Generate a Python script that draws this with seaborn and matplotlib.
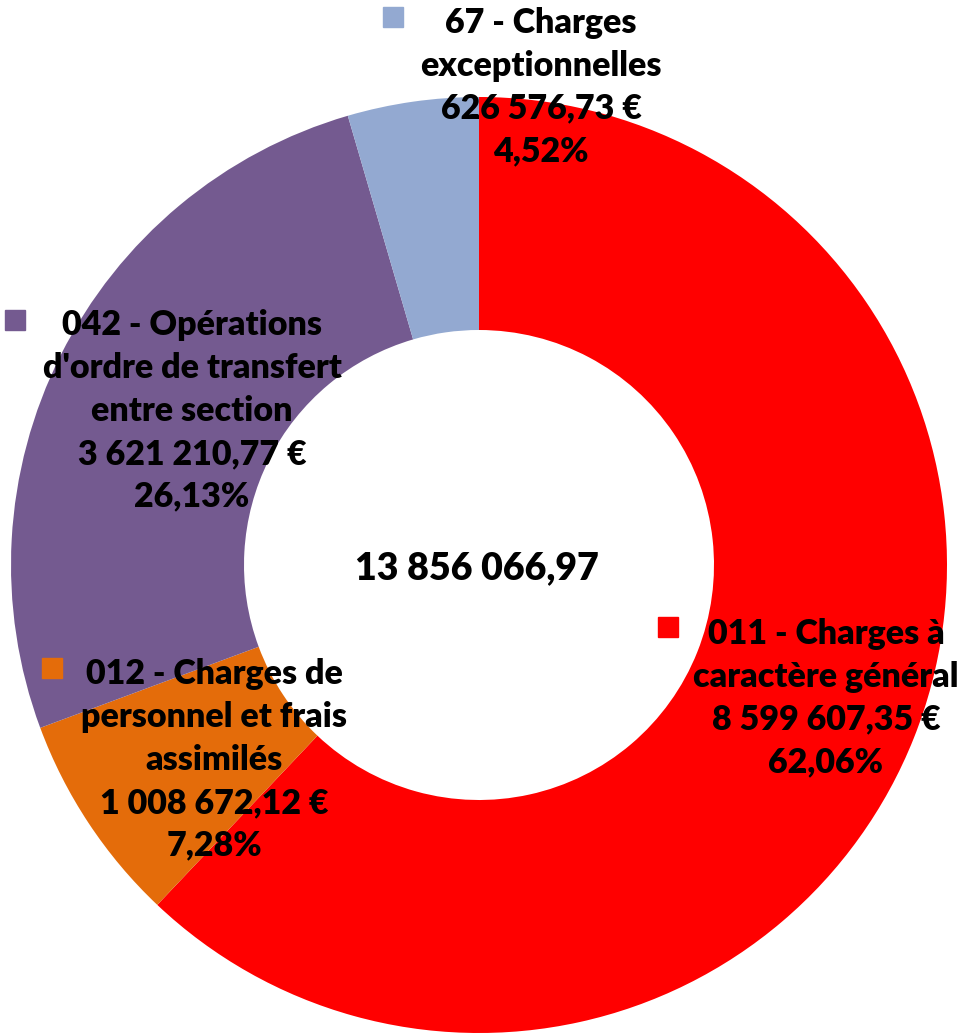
import matplotlib.pyplot as plt
import seaborn as sns

# Budget chapters (dépenses de fonctionnement)
chapters = [
    "011 - Charges à\ncaractère général",
    "012 - Charges de\npersonnel et frais\nassimilés",
    "042 - Opérations\nd'ordre de transfert\nentre section",
    "67 - Charges\nexceptionnelles",
]
amounts = [8599607.35, 1008672.12, 3621210.77, 626576.73]
colors = ["#FF0000", "#E46C0A", "#745A90", "#93A9D1"]

# label block centres and legend-key positions, in pixels from top-left
label_pos = [(826, 698), (214, 760), (192, 411), (541, 87)]
key_pos = [(668, 627), (52, 668), (15, 320), (393, 17)]

W, H = 962, 1034


def fr_number(v):
    return f"{v:,.2f}".replace(",", " ").replace(".", ",")


sns.set_theme(style="white")
plt.rcParams['font.family'] = ['Lato', 'DejaVu Sans']

total = sum(amounts)

fig = plt.figure(figsize=(W / 100, H / 100), dpi=100)
ax = fig.add_axes([0, 0, 1, 1])

ax.pie(amounts, colors=colors, startangle=90, counterclock=False,
       radius=468, center=(479, H - 565),
       wedgeprops=dict(width=233, linewidth=0))

for name, val, col, (lx, ly), (kx, ky) in zip(chapters, amounts, colors, label_pos, key_pos):
    pct = f"{val / total * 100:.2f}%".replace(".", ",")
    txt = f"{name}\n{fr_number(val)} €\n{pct}"
    ax.text(lx, H - ly, txt, ha='center', va='center', multialignment='center',
            fontsize=24.5, fontweight=800, color='black', linespacing=1.42)
    ax.plot(kx, H - ky, marker='s', markersize=14, color=col, linestyle='none')

ax.text(477, H - 568, fr_number(total), ha='center', va='center',
        fontsize=27, fontweight=800, color='black')

ax.set_xlim(0, W)
ax.set_ylim(0, H)
ax.set_aspect('equal')
ax.axis('off')

fig.savefig("out.png", dpi=100, facecolor='white')
